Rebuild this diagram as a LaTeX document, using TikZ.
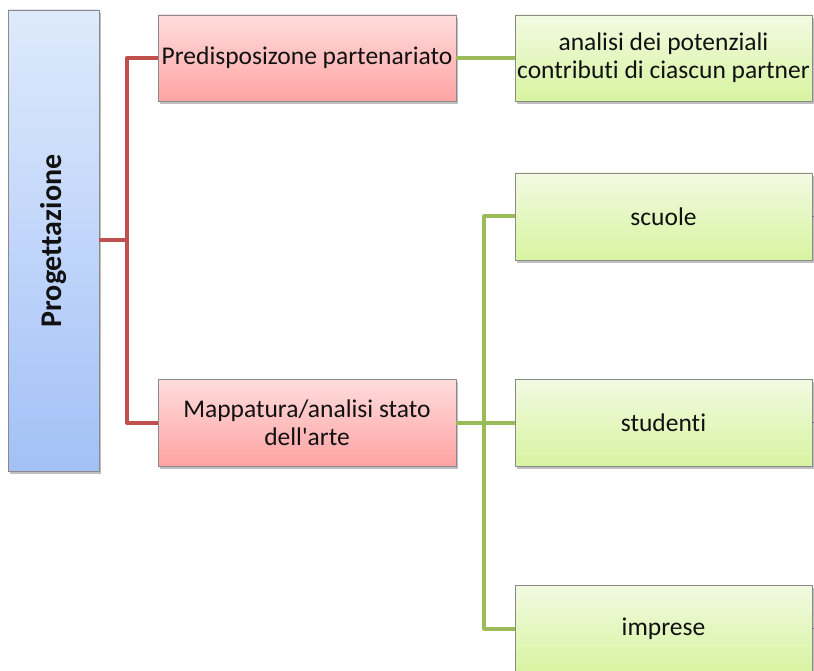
\documentclass[tikz,border=0pt]{standalone}
\usepackage{fontspec}
\setmainfont{Carlito}[Ligatures={NoCommon}]
\usetikzlibrary{shadows}
\definecolor{bluetop}{HTML}{DEEAFC}
\definecolor{bluebot}{HTML}{A3C1F7}
\definecolor{pinktop}{HTML}{FFDCDC}
\definecolor{pinkbot}{HTML}{FFA3A3}
\definecolor{greentop}{HTML}{F2FAE2}
\definecolor{greenbot}{HTML}{D7F4A0}
\definecolor{redline}{HTML}{C0504D}
\definecolor{greenline}{HTML}{9BBB59}
\definecolor{purpleline}{HTML}{8064A2}
\definecolor{boxborder}{HTML}{8A8A8A}
\definecolor{txt}{HTML}{111111}
\tikzset{
  box/.style={rectangle, draw=boxborder, line width=0.8pt, inner sep=0pt, align=center,
    text=txt, font=\fontsize{25.5}{28}\selectfont,
    drop shadow={shadow xshift=2pt, shadow yshift=-3pt, opacity=0.25, fill=black}},
  bluebox/.style={box, top color=bluetop, bottom color=bluebot},
  pinkbox/.style={box, top color=pinktop, bottom color=pinkbot},
  greenbox/.style={box, top color=greentop, bottom color=greenbot},
  redconn/.style={draw=redline, line width=4pt, line join=round},
  greenconn/.style={draw=greenline, line width=4pt, line join=round},
  stub/.style={draw=purpleline, line width=1.2pt}
}
\begin{document}
\begin{tikzpicture}[x=1pt,y=-1pt]
\useasboundingbox (0,0) rectangle (814,671);
% boxes
\node[bluebox, minimum width=91pt, minimum height=461pt] (prog) at (53.5,240.5) {};
\node[rotate=90, text=txt, font=\fontsize{30}{32}\selectfont\bfseries] (progt) at (53.5,241) {Progettazione};
\node[pinkbox, minimum width=298pt, minimum height=86pt] (pred) at (307,58) {Predisposizone partenariato};
\node[pinkbox, minimum width=298pt, minimum height=87pt] (mapp) at (307,422.5) {Mappatura/analisi stato\\dell\textquotesingle arte};
\node[greenbox, minimum width=297pt, minimum height=86pt] (anal) at (663.5,58) {analisi dei potenziali\\contributi di ciascun partner};
\node[greenbox, minimum width=297pt, minimum height=87pt] (scuole) at (663.5,216.5) {scuole};
\node[greenbox, minimum width=297pt, minimum height=87pt] (stud) at (663.5,422.5) {studenti};
\node[greenbox, minimum width=297pt, minimum height=87pt] (impr) at (663.5,628.5) {imprese};
% junctions
\coordinate (rj) at (127,240.5);
\coordinate (gj) at (484,422.5);
% connectors
\draw[redconn] (prog.east) -- (rj);
\draw[redconn] (pred.west) -| (rj) |- (mapp.west);
\draw[greenconn] (pred.east) -- (anal.west);
\draw[greenconn] (mapp.east) -- (stud.west);
\draw[greenconn] (scuole.west) -| (gj) |- (impr.west);
% stubs at right edge
\draw[stub] (scuole.east) -- ++(4,0);
\draw[stub] (stud.east) -- ++(4,0);
\draw[stub] (impr.east) -- ++(4,0);
\end{tikzpicture}
\end{document}
